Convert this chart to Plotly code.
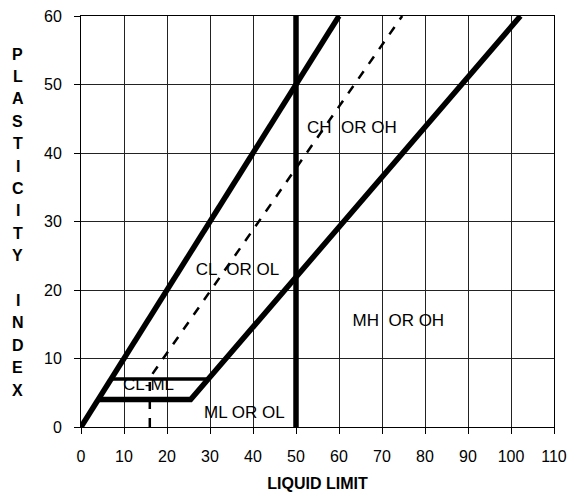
import plotly.graph_objects as go

# Boundary lines of the plasticity chart (liquid limit, plasticity index)
line_45_x = [0, 60]
line_45_y = [0, 60]
a_line_x = [4, 25.5, 102.2]
a_line_y = [4, 4, 60]
cl_ml_top_x = [7, 29.6]
cl_ml_top_y = [7, 7]
ll50_x = [50, 50]
ll50_y = [0, 60]
u_line_x = [16, 16, 74.7]
u_line_y = [0, 7.2, 60]

region_labels = ["CL-ML", "ML OR OL", "CL  OR OL", "CH  OR OH", "MH  OR OH"]
region_x = [15.7, 38.0, 36.4, 63.0, 73.8]
region_y = [6.0, 2.0, 22.8, 43.6, 15.4]

x_ticks = [0, 10, 20, 30, 40, 50, 60, 70, 80, 90, 100, 110]
y_ticks = [0, 10, 20, 30, 40, 50, 60]

x_title = "LIQUID LIMIT"
y_title = "PLASTICITY INDEX"

font = "Liberation Sans, Arial, sans-serif"
fig = go.Figure()
thick = dict(color="black", width=5.5)
fig.add_trace(go.Scatter(x=u_line_x, y=u_line_y, mode="lines",
                         line=dict(color="black", width=2.5, dash="dash")))
fig.add_trace(go.Scatter(x=line_45_x, y=line_45_y, mode="lines", line=thick))
fig.add_trace(go.Scatter(x=a_line_x, y=a_line_y, mode="lines", line=thick))
fig.add_trace(go.Scatter(x=cl_ml_top_x, y=cl_ml_top_y, mode="lines",
                         line=dict(color="black", width=3.5)))
fig.add_trace(go.Scatter(x=ll50_x, y=ll50_y, mode="lines", line=thick))
fig.add_trace(go.Scatter(x=region_x, y=region_y, mode="text", text=region_labels,
                         textfont=dict(family=font, size=17, color="black")))

# vertical stacked letters of the y-axis title (positions relative to plot area)
plot_top_px, plot_h_px, plot_left_px, plot_w_px = 16, 411, 81, 473
first_letter_px, letter_step_px = 54, 22.4
for i, ch in enumerate(y_title):
    if ch == " ":
        continue
    py = first_letter_px + i * letter_step_px
    fig.add_annotation(
        text="<b>%s</b>" % ch, xref="paper", yref="paper",
        x=(18 - plot_left_px) / plot_w_px,
        y=(plot_top_px + plot_h_px - py) / plot_h_px,
        showarrow=False, xanchor="center", yanchor="middle",
        font=dict(family=font, size=16, color="black"))

axis_common = dict(showgrid=True, gridcolor="#222", gridwidth=1, zeroline=False,
                   showline=True, linecolor="black", linewidth=1, mirror=True,
                   ticks="outside", ticklen=6, tickcolor="black",
                   ticklabelstandoff=9, ticklabeloverflow="allow",
                   tickfont=dict(family=font, size=16, color="black"))
fig.update_xaxes(range=[0, 110], tickvals=x_ticks, **axis_common,
                 title=dict(text="<b>%s</b>" % x_title,
                            font=dict(family=font, size=16, color="black"),
                            standoff=13))
fig.update_yaxes(range=[0, 60], tickvals=y_ticks, **axis_common)
# page body has an 8px default margin; offset the figure margins to compensate
fig.update_layout(width=578, height=484, showlegend=False,
                  margin=dict(l=73, r=32, t=8, b=65, autoexpand=False),
                  plot_bgcolor="white", paper_bgcolor="white")
fig.write_html("out.html")
